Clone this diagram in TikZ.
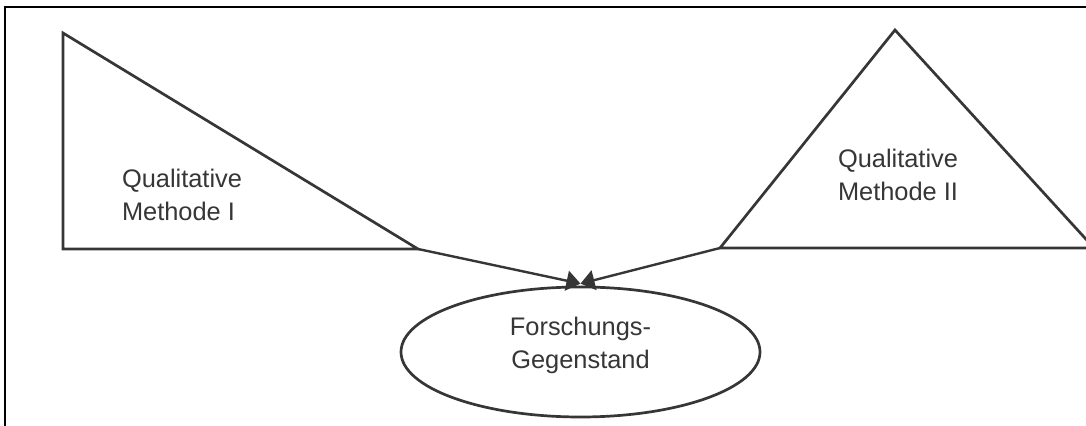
\documentclass[tikz,border=0pt]{standalone}
\usepackage{fontspec}
\setmainfont{Liberation Sans}
\usepackage{tikz}
\usetikzlibrary{positioning, shapes.geometric, arrows.meta}

\definecolor{ink}{HTML}{363636}

\begin{document}
\begin{tikzpicture}[x=0.5pt, y=-0.5pt,
        lbl/.style={text=ink, align=left, font=\fontsize{12.7}{16.5}\selectfont},
        tri/.style={draw=ink, line width=1.35pt, line join=miter},
        tip/.style={-{Triangle[length=7pt, width=10pt]}, draw=ink, fill=ink, line width=1.2pt}]
        \useasboundingbox (0,0) rectangle (1086,426);
        \clip (0,0) rectangle (1086,426);
        \draw[line width=1.1pt] (5,7) rectangle (1100,440);

        % left and right method triangles
        \coordinate (LT) at (63,33);
        \coordinate (LB) at (63,249);
        \coordinate (LR) at (418,249);
        \coordinate (RA) at (895,30);
        \coordinate (RL) at (720,248);
        \coordinate (RR) at (1094,248);
        \draw[tri] (LT) -- (LB) -- (LR) -- cycle;
        \draw[tri] (RA) -- (RL) -- (RR) -- cycle;

        \node[lbl] (M1) at (182,195) {Qualitative\\Methode I};
        \node[lbl] (M2) at (898,175) {Qualitative\\Methode II};

        \node[ellipse, draw=ink, line width=1.35pt, minimum width=179.5pt, minimum height=65pt] (FG) at (580.5,352) {};
        \node[lbl, align=center] (FGt) at (580.5,345) {Forschungs-\\Gegenstand};

        \draw[tip] (LR) -- ([yshift=1pt]FG.north);
        \draw[tip] (RL) -- ([yshift=1pt]FG.north);
    \end{tikzpicture}
\end{document}
